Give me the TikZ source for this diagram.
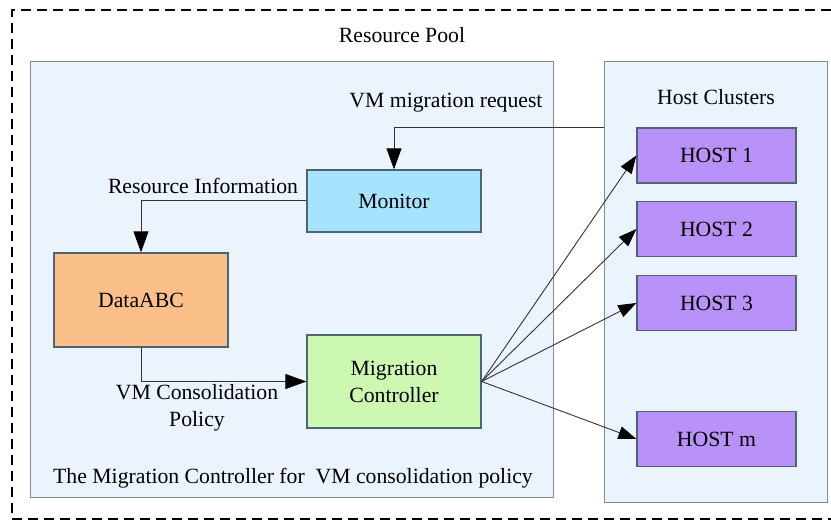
\documentclass[tikz,border=0pt]{standalone}
\usepackage{fontspec}
\setmainfont{Liberation Serif}
\usetikzlibrary{arrows.meta}
\definecolor{panelfill}{HTML}{EBF3FD}
\definecolor{panelline}{HTML}{7F8C96}
\definecolor{boxline}{HTML}{4E6474}
\definecolor{monfill}{HTML}{A6E3FC}
\definecolor{datafill}{HTML}{FBBF8A}
\definecolor{mcfill}{HTML}{CDF8B1}
\definecolor{hostfill}{HTML}{B992F9}
\definecolor{wire}{HTML}{333333}
\tikzset{
  panel/.style={draw=panelline, fill=panelfill, line width=1bp},
  blockbox/.style={draw=boxline, line width=1.3bp, minimum width=174bp, align=center, inner sep=0pt},
  hostbox/.style={draw=boxline, line width=1.3bp, fill=hostfill, minimum width=159bp, minimum height=55bp, inner sep=0pt},
  lbl/.style={inner sep=0pt, align=center},
  wirearrow/.style={draw=wire, line width=1bp, -{Triangle[length=21bp,width=15bp,color=black]}},
  hostarrow/.style={draw=wire, line width=0.9bp, -{Triangle[length=18bp,width=13bp,color=black]}},
}
\begin{document}
\begin{tikzpicture}[x=1bp,y=-1bp, font=\fontsize{21.8}{27}\selectfont]
\useasboundingbox (0,0) rectangle (831,522);
% outer dashed pool
\draw[line width=2.2bp, dash pattern=on 10bp off 6bp] (831,10) -- (12,10) -- (12,519) -- (831,519);
\node[lbl] (pool) at (402,35) {Resource Pool};
% panels
\draw[panel] (30,62) rectangle (553,497);
\draw[panel] (604,62) rectangle (827,502);
\node[lbl] (hc) at (716,97) {Host Clusters};
% blocks
\node[blockbox, fill=monfill, minimum height=62bp] (mon) at (394,201) {Monitor};
\node[blockbox, fill=datafill, minimum height=94bp] (data) at (141,300) {DataABC};
\node[blockbox, fill=mcfill, minimum height=93bp] (mc) at (394,381.5) {Migration\\Controller};
\node[hostbox] (h1) at (716.5,155.5) {HOST 1};
\node[hostbox] (h2) at (716.5,229) {HOST 2};
\node[hostbox] (h3) at (716.5,303) {HOST 3};
\node[hostbox] (hm) at (716.5,439) {HOST m};
% labels
\node[lbl] (req) at (446,103) {VM migration request};
\node[lbl] (rinfo) at (203,186) {Resource Information};
\node[lbl] (pol) at (197,408) {VM Consolidation\\Policy};
\node[lbl] (title) at (293,478) {The Migration Controller for\ \ VM consolidation policy};
% connectors
\coordinate (reqstart) at (604,128);
\draw[wirearrow] (reqstart) -| (mon.north);
\draw[wirearrow] (mon.west) -| (data.north);
\draw[wirearrow] (data.south) |- (mc.west);
\draw[hostarrow] (mc.east) -- (h1.west);
\draw[hostarrow] (mc.east) -- (h2.west);
\draw[hostarrow] (mc.east) -- (h3.west);
\draw[hostarrow] (mc.east) -- (hm.west);
\end{tikzpicture}
\end{document}
